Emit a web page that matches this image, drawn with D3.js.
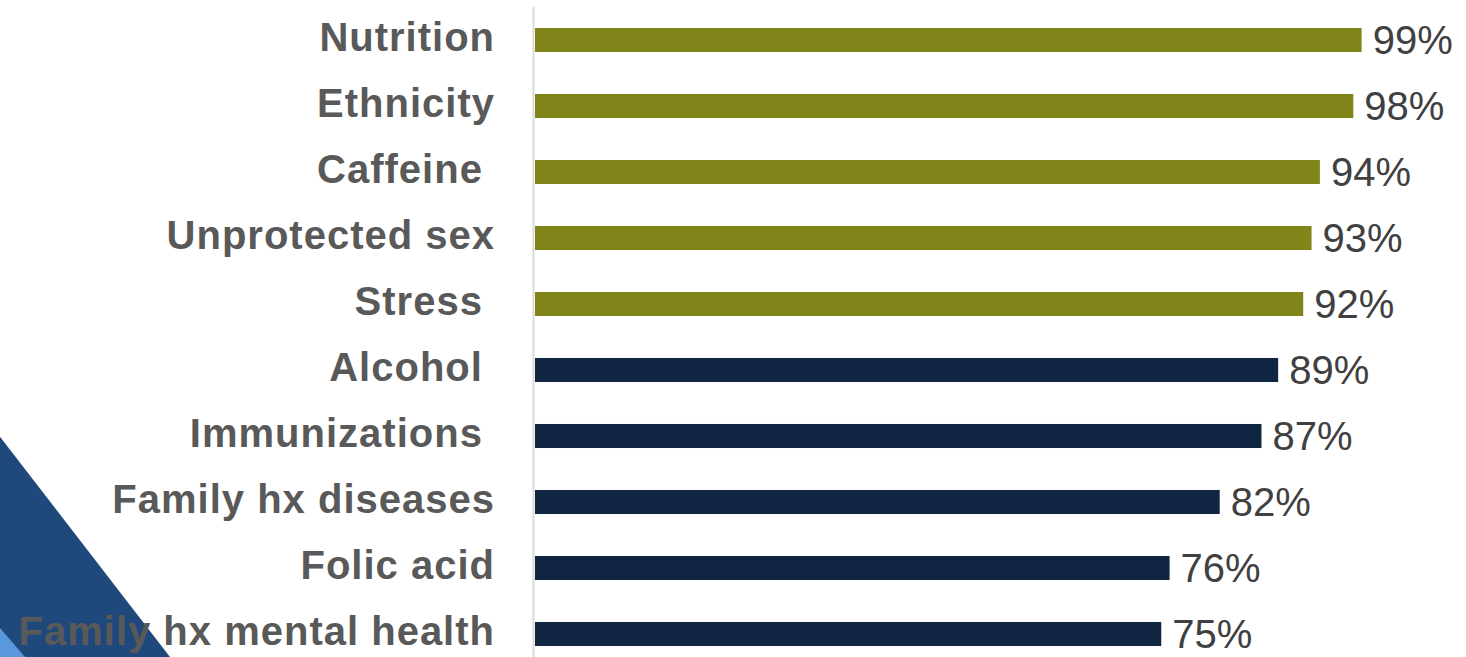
<!DOCTYPE html>
<html>
<head>
<meta charset="utf-8">
<script src="https://cdn.jsdelivr.net/npm/d3@7"></script>
<style>
  html, body { margin: 0; padding: 0; background: #ffffff; }
  svg { display: block; }
  text { font-family: "Liberation Sans", Arial, Helvetica, sans-serif; white-space: pre; }
</style>
</head>
<body>
<svg id="chart" width="1466" height="657"></svg>
<script>
// ---- data ----
const categories = ["Nutrition", "Ethnicity", "Caffeine ", "Unprotected sex", "Stress ",
                    "Alcohol ", "Immunizations ", "Family hx diseases", "Folic acid", "Family hx mental health"];
const values = [99, 98, 94, 93, 92, 89, 87, 82, 76, 75];
const groups = ["high", "high", "high", "high", "high", "low", "low", "low", "low", "low"];
const valueLabels = ["99%", "98%", "94%", "93%", "92%", "89%", "87%", "82%", "76%", "75%"];

const svg = d3.select("#chart");
const W = 1466, H = 657;

// decorative corner triangles
svg.append("polygon")
  .attr("points", `0,436.7 170,${H} 0,${H}`)
  .attr("fill", "#1f497d");
svg.append("polygon")
  .attr("points", `0,628 25,${H} 0,${H}`)
  .attr("fill", "#5b97dc");

const x = d3.scaleLinear().domain([0, 100]).range([535, 1370]);
const y = d3.scaleBand().domain(categories).range([7, 667]).paddingInner(0.636).paddingOuter(0.318);

const color = d3.scaleOrdinal().domain(["high", "low"]).range(["#82861a", "#0f2542"]);

const rows = categories.map((c, i) => ({ c, v: values[i], g: groups[i], l: valueLabels[i] }));

// bars
svg.append("g").selectAll("rect").data(rows).join("rect")
  .attr("x", x(0))
  .attr("y", d => y(d.c))
  .attr("width", d => x(d.v) - x(0))
  .attr("height", y.bandwidth())
  .attr("fill", d => color(d.g));

// vertical axis line
svg.append("line")
  .attr("x1", 533.5).attr("x2", 533.5)
  .attr("y1", 7).attr("y2", H)
  .attr("stroke", "#d9d9d9").attr("stroke-width", 2);

// value labels
svg.append("g").selectAll("text").data(rows).join("text")
  .attr("x", d => x(d.v) + 11)
  .attr("y", d => y(d.c) + y.bandwidth() / 2 + 13.5)
  .attr("font-size", 40)
  .attr("fill", "#404040")
  .text(d => d.l);

// category labels
svg.append("g").selectAll("text").data(rows).join("text")
  .attr("x", 495)
  .attr("y", d => y(d.c) + y.bandwidth() / 2 + 11)
  .attr("text-anchor", "end")
  .attr("font-size", 40)
  .attr("font-weight", "bold")
  .attr("letter-spacing", 1)
  .attr("fill", "#595959")
  .text(d => d.c);
</script>
</body>
</html>
